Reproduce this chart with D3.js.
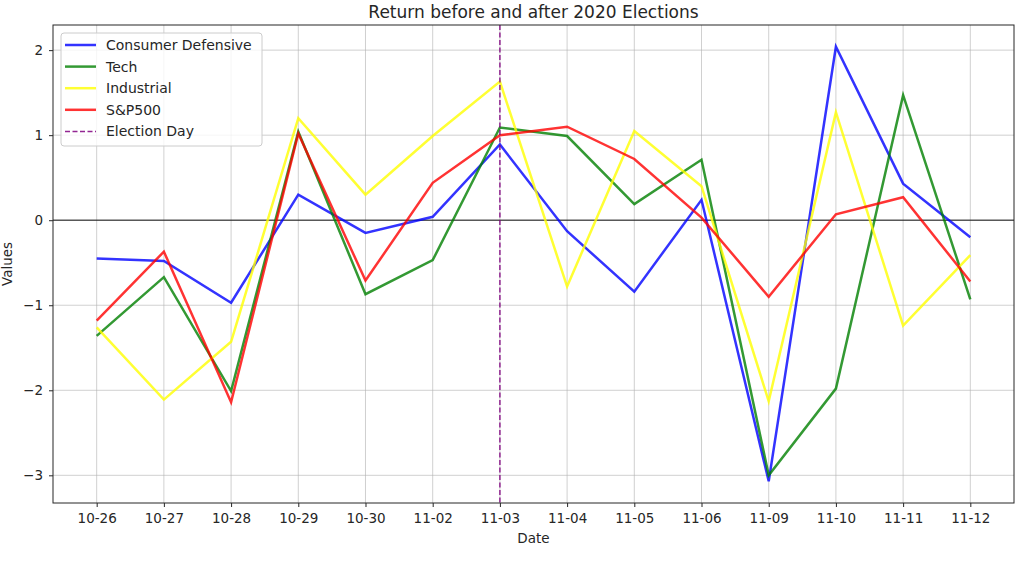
<!DOCTYPE html>
<html>
<head>
<meta charset="utf-8">
<script src="https://cdn.jsdelivr.net/npm/d3@7"></script>
<style>
  body { margin: 0; background: #fff; }
  text { font-family: "DejaVu Sans", sans-serif; fill: #262626; }
</style>
</head>
<body>
<div id="chart"></div>
<script>
// Daily returns around the 2020 US election
const dates = ["10-26", "10-27", "10-28", "10-29", "10-30", "11-02", "11-03",
               "11-04", "11-05", "11-06", "11-09", "11-10", "11-11", "11-12"];
const consumerDefensive = [-0.45, -0.48, -0.97, 0.30, -0.15, 0.04, 0.89, -0.13, -0.84, 0.24, -3.07, 2.04, 0.43, -0.20];
const tech = [-1.36, -0.67, -2.01, 1.04, -0.87, -0.47, 1.09, 0.99, 0.19, 0.71, -3.00, -1.98, 1.47, -0.93];
const industrial = [-1.26, -2.11, -1.43, 1.20, 0.30, 0.99, 1.63, -0.78, 1.05, 0.40, -2.13, 1.27, -1.24, -0.41];
const sp500 = [-1.18, -0.37, -2.14, 1.02, -0.71, 0.44, 1.00, 1.10, 0.72, 0.03, -0.90, 0.07, 0.27, -0.72];
const electionDay = "11-03";
const yTicks = [-3, -2, -1, 0, 1, 2];

const series = [
  { name: "Consumer Defensive", values: consumerDefensive, color: "#0000ff" },
  { name: "Tech", values: tech, color: "#008000" },
  { name: "Industrial", values: industrial, color: "#ffff00" },
  { name: "S&P500", values: sp500, color: "#ff0000" }
];

const width = 1024;
const height = 561;
const margin = { top: 25, right: 10, bottom: 58, left: 53 };
const innerW = width - margin.left - margin.right;
const innerH = height - margin.top - margin.bottom;

const svg = d3.select("#chart")
  .append("svg")
    .attr("width", width)
    .attr("height", height);

const g = svg.append("g")
    .attr("transform", `translate(${margin.left},${margin.top})`);

// matplotlib-like 5% margins
const n = dates.length;
const x = d3.scaleLinear()
    .domain([-0.05 * (n - 1), (n - 1) * 1.05])
    .range([0, innerW]);

const allValues = series.flatMap(s => s.values);
const yMin = d3.min(allValues), yMax = d3.max(allValues);
const pad = (yMax - yMin) * 0.05;
const y = d3.scaleLinear()
    .domain([yMin - pad, yMax + pad])
    .range([innerH, 0]);

// grid
g.append("g")
  .selectAll("line")
  .data(d3.range(n))
  .join("line")
    .attr("x1", d => x(d)).attr("x2", d => x(d))
    .attr("y1", 0).attr("y2", innerH)
    .attr("stroke", "#b0b0b0").attr("stroke-opacity", 0.6).attr("stroke-width", 1);

g.append("g")
  .selectAll("line")
  .data(yTicks)
  .join("line")
    .attr("x1", 0).attr("x2", innerW)
    .attr("y1", d => y(d)).attr("y2", d => y(d))
    .attr("stroke", "#b0b0b0").attr("stroke-opacity", 0.6).attr("stroke-width", 1);

// zero line
g.append("line")
    .attr("x1", 0).attr("x2", innerW)
    .attr("y1", y(0)).attr("y2", y(0))
    .attr("stroke", "#000").attr("stroke-opacity", 0.6).attr("stroke-width", 1.6);

// series lines
const line = d3.line()
    .x((d, i) => x(i))
    .y(d => y(d));

g.selectAll(".series")
  .data(series)
  .join("path")
    .attr("class", "series")
    .attr("d", d => line(d.values))
    .attr("fill", "none")
    .attr("stroke", d => d.color)
    .attr("stroke-opacity", 0.8)
    .attr("stroke-width", 2.5)
    .attr("stroke-linejoin", "miter");

// election day
const ex = x(dates.indexOf(electionDay));
g.append("line")
    .attr("x1", ex).attr("x2", ex)
    .attr("y1", 0).attr("y2", innerH)
    .attr("stroke", "#800080")
    .attr("stroke-opacity", 0.85)
    .attr("stroke-width", 1.5)
    .attr("stroke-dasharray", "5,2.5");

// axes
const xAxis = g.append("g")
    .attr("transform", `translate(0,${innerH})`)
    .call(d3.axisBottom(x)
      .tickValues(d3.range(n))
      .tickFormat(i => dates[i])
      .tickSize(4).tickPadding(6));

const yAxis = g.append("g")
    .call(d3.axisLeft(y)
      .tickValues(yTicks)
      .tickFormat(d => d < 0 ? "\u2212" + Math.abs(d) : d)
      .tickSize(4).tickPadding(6));

[xAxis, yAxis].forEach(a => {
  a.select(".domain").remove();
  a.selectAll("text").attr("font-size", 13.5).attr("fill", "#262626");
  a.selectAll(".tick line").attr("stroke", "#262626");
});

// frame
g.append("rect")
    .attr("width", innerW).attr("height", innerH)
    .attr("fill", "none").attr("stroke", "#262626").attr("stroke-width", 1);

// labels
svg.append("text")
    .attr("x", margin.left + innerW / 2)
    .attr("y", 18)
    .attr("text-anchor", "middle")
    .attr("font-size", 17)
    .text("Return before and after 2020 Elections");

svg.append("text")
    .attr("x", margin.left + innerW / 2)
    .attr("y", 543)
    .attr("text-anchor", "middle")
    .attr("font-size", 13.5)
    .text("Date");

svg.append("text")
    .attr("transform", `translate(12,${margin.top + innerH / 2}) rotate(-90)`)
    .attr("text-anchor", "middle")
    .attr("font-size", 13.5)
    .text("Values");

// legend
const legendItems = series.map(s => ({ name: s.name, color: s.color, dash: null }))
  .concat([{ name: "Election Day", color: "#800080", dash: "5,2.5" }]);

const legend = g.append("g").attr("transform", "translate(8,8)");
legend.append("rect")
    .attr("width", 201).attr("height", 113)
    .attr("rx", 3)
    .attr("fill", "#fff").attr("fill-opacity", 0.8)
    .attr("stroke", "#cccccc");

const item = legend.selectAll(".item")
  .data(legendItems)
  .join("g")
    .attr("class", "item")
    .attr("transform", (d, i) => `translate(0,${12 + i * 21.6})`);

item.append("line")
    .attr("x1", 4).attr("x2", 35)
    .attr("stroke", d => d.color)
    .attr("stroke-opacity", d => d.dash ? 0.85 : 0.8)
    .attr("stroke-width", d => d.dash ? 1.5 : 2.5)
    .attr("stroke-dasharray", d => d.dash);

item.append("text")
    .attr("x", 45)
    .attr("dy", "0.35em")
    .attr("font-size", 14)
    .text(d => d.name);
</script>
</body>
</html>
